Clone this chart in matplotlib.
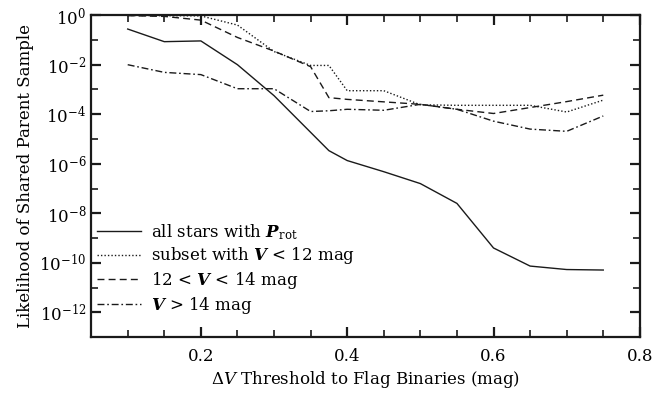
import numpy as np
import matplotlib
matplotlib.use('Agg')
import matplotlib.pyplot as plt
from matplotlib.ticker import FixedLocator, MultipleLocator, FuncFormatter, NullFormatter

plt.rcParams['font.family'] = 'DejaVu Serif'
plt.rcParams['mathtext.fontset'] = 'dejavuserif'

# threshold values (mag)
dv = [0.1, 0.15, 0.2, 0.25, 0.3, 0.35, 0.375, 0.4, 0.45, 0.5, 0.55, 0.6, 0.65, 0.7, 0.75]
# log10 likelihoods
log_all = [-0.56, -1.07, -1.04, -2.0, -3.25, -4.73, -5.47, -5.87, -6.32, -6.8, -7.6, -9.4, -10.13, -10.27, -10.29]
log_bright = [-0.01, -0.02, -0.03, -0.4, -1.47, -2.03, -2.03, -3.05, -3.05, -3.62, -3.64, -3.64, -3.64, -3.91, -3.43]
log_mid = [-0.02, -0.05, -0.2, -0.9, -1.45, -2.08, -3.33, -3.4, -3.5, -3.6, -3.8, -3.97, -3.73, -3.49, -3.23]
log_faint = [-2.0, -2.31, -2.4, -2.97, -2.97, -3.89, -3.86, -3.8, -3.84, -3.6, -3.8, -4.28, -4.6, -4.69, -4.07]

labels = [r'all stars with $\mathbfit{P}_{\rm rot}$',
          r'subset with $\mathbfit{V}$ < 12 mag',
          r'12 < $\mathbfit{V}$ < 14 mag',
          r'$\mathbfit{V}$ > 14 mag']

fig = plt.figure(figsize=(6.7, 3.99), dpi=100)
ax = fig.add_axes([0.136, 0.155, 0.819, 0.807])

c = '#1a1a1a'
ax.plot(dv, 10**np.array(log_all), '-', c=c, lw=1.0, label=labels[0])
ax.plot(dv, 10**np.array(log_bright), ':', c=c, lw=1.0, dashes=(1, 1.5), label=labels[1])
ax.plot(dv, 10**np.array(log_mid), '--', c=c, lw=1.0, dashes=(5, 3), label=labels[2])
ax.plot(dv, 10**np.array(log_faint), '-.', c=c, lw=1.0, dashes=(5, 2, 1.2, 2), label=labels[3])

ax.set_yscale('log')
ax.set_xlim(0.05, 0.8)
ax.set_ylim(1e-13, 1)
ax.xaxis.set_major_locator(FixedLocator([0.2, 0.4, 0.6, 0.8]))
ax.xaxis.set_minor_locator(MultipleLocator(0.05))
ax.yaxis.set_major_locator(FixedLocator([10.0**k for k in range(-12, 1, 2)]))
ax.yaxis.set_minor_locator(FixedLocator([10.0**k for k in range(-13, 0, 2)]))
ax.yaxis.set_major_formatter(FuncFormatter(lambda v, p: r'$10^{%d}$' % round(np.log10(v))))
ax.yaxis.set_minor_formatter(NullFormatter())
ax.xaxis.set_major_formatter(FuncFormatter(lambda v, p: '%.1f' % v))
ax.xaxis.set_minor_formatter(NullFormatter())

for s in ax.spines.values():
    s.set_linewidth(1.6)
    s.set_color(c)
ax.tick_params(which='both', direction='in', top=True, right=True, color=c, labelsize=12)
ax.tick_params(which='major', length=7, width=1.6)
ax.tick_params(which='minor', length=5, width=1.2)
ax.tick_params(axis='x', which='major', pad=8)

ax.set_xlabel(r'$\Delta\mathit{V}$ Threshold to Flag Binaries (mag)', fontsize=12, labelpad=3)
ax.set_ylabel('Likelihood of Shared Parent Sample', fontsize=12, labelpad=4)

ax.legend(loc='lower left', bbox_to_anchor=(-0.01, 0.03), frameon=False, fontsize=12,
          handlelength=2.6, handletextpad=0.6, labelspacing=0.22, borderaxespad=0.3)

fig.savefig('out.png', dpi=100)
